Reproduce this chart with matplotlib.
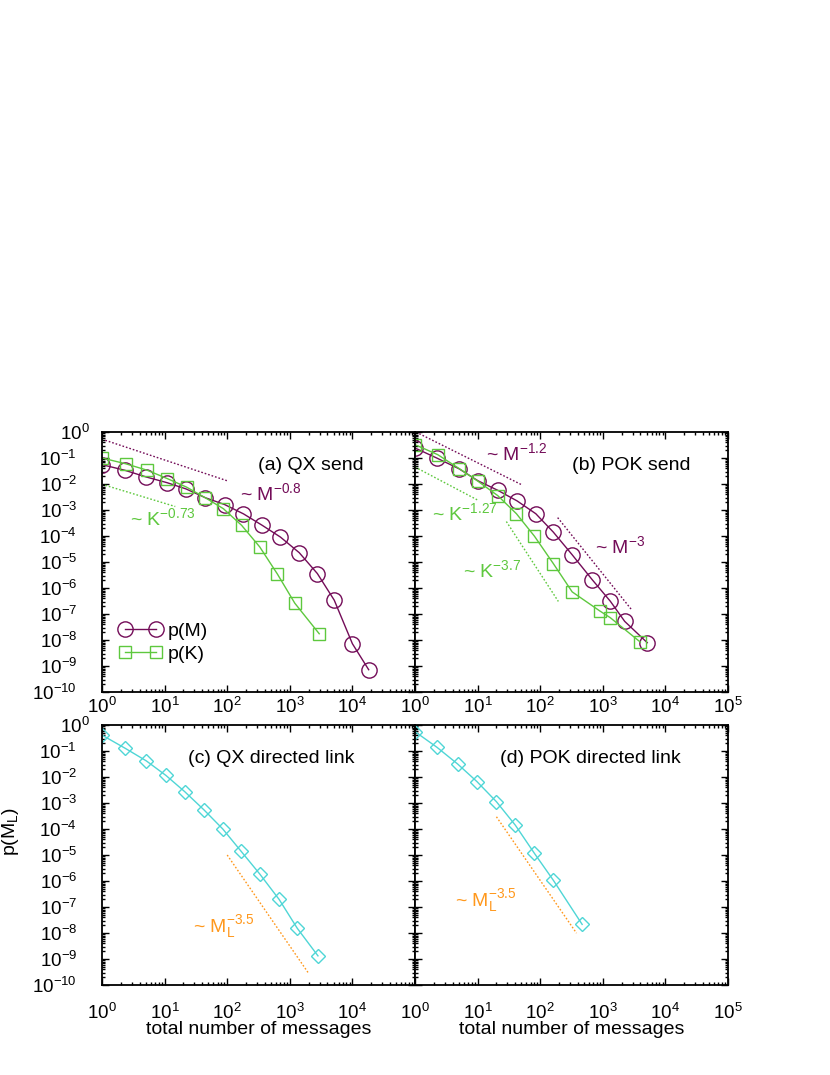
import numpy as np
import matplotlib
matplotlib.use("Agg")
import matplotlib.pyplot as plt
from matplotlib.ticker import LogLocator, NullFormatter

plt.rcParams["font.family"] = ["Liberation Sans", "DejaVu Sans"]
plt.rcParams["mathtext.fontset"] = "custom"
plt.rcParams["mathtext.rm"] = "Liberation Sans"
plt.rcParams["mathtext.it"] = "Liberation Sans:italic"
plt.rcParams["mathtext.default"] = "regular"

PURPLE = "#730c58"
GREEN = "#5ec83e"
CYAN = "#4fd6d6"
ORANGE = "#ff981c"

# (a) QX send
qx_m_x = [1, 2.3, 5.1, 11, 22, 45, 91, 182, 363, 708, 1413, 2754, 5129, 10000, 18200]
qx_m_y = [0.0555, 0.0339, 0.0186, 0.0112, 0.00646, 0.00295, 0.00162, 7.1e-4,
          2.57e-4, 9.1e-5, 2.29e-5, 3.6e-6, 3.4e-7, 7.2e-9, 7.2e-10]
qx_k_x = [1, 2.39, 5.25, 11, 22.4, 44.7, 87, 170, 331, 631, 1202, 2951]
qx_k_y = [0.1, 0.060, 0.034, 0.0162, 0.0076, 0.00295, 0.00112, 2.57e-4,
          3.8e-5, 3.5e-6, 2.6e-7, 1.74e-8]

# (b) POK send
pok_m_x = [1, 2.22, 5.0, 10.2, 20.9, 42.7, 85, 162, 324, 676, 1318, 2239, 5129]
pok_m_y = [0.243, 0.1, 0.039, 0.0132, 0.00575, 0.00224, 7.2e-4, 1.41e-4,
           1.9e-5, 2.1e-6, 3.1e-7, 5.2e-8, 7.9e-9]
pok_k_x = [1, 2.3, 5.1, 10.2, 20.9, 41.7, 81, 162, 324, 891, 1318, 3981]
pok_k_y = [0.326, 0.135, 0.039, 0.0126, 0.0036, 7.2e-4, 9.8e-5, 8.7e-6,
           7.1e-7, 1.32e-7, 7.2e-8, 8.3e-9]

# (c) QX directed link
qx_l_x = [1, 2.36, 5.1, 10.5, 20.9, 42.7, 85, 166, 331, 676, 1318, 2818]
qx_l_y = [0.41, 0.126, 0.0417, 0.0115, 0.00275, 5.4e-4, 1.0e-4, 1.41e-5,
          1.86e-6, 1.95e-7, 1.51e-8, 1.32e-9]

# (d) POK directed link
pok_l_x = [1, 2.25, 4.8, 9.8, 20, 40, 81, 162, 468]
pok_l_y = [0.555, 0.138, 0.0316, 0.0066, 0.00112, 1.41e-4, 1.15e-5, 1.07e-6, 2.14e-8]

# power-law guides: (x_start, x_end, y_start, exponent)
fit_qx_m = (1.13, 105, 0.48, -0.8)
fit_qx_k = (1.13, 14.8, 8.9e-3, -0.73)
fit_pok_m1 = (1.17, 50, 0.86, -1.2)
fit_pok_k1 = (1.0, 10, 0.045, -1.27)
fit_pok_k2 = (28.8, 195, 3.6e-4, -3.7)
fit_pok_m2 = (190, 2950, 5.1e-4, -3.0)
fit_qx_l = (100, 2000, 1e-5, -3.5)
fit_pok_l = (20, 380, 2.95e-4, -3.5)

y_decades = list(range(0, -11, -1))

fig = plt.figure(figsize=(8.3, 10.75), dpi=100)
W, H = 830, 1075
FS = 14


def make_ax(left, top):
    return fig.add_axes([left / W, 1 - (top + 260) / H, 313 / W, 260 / H])


ax_a = make_ax(102, 432)
ax_b = make_ax(415, 432)
ax_c = make_ax(102, 725)
ax_d = make_ax(415, 725)

for ax in [ax_a, ax_b, ax_c, ax_d]:
    ax.set_xscale("log")
    ax.set_yscale("log")
    ax.set_xlim(1, 1e5)
    ax.set_ylim(1e-10, 1)
    ax.xaxis.set_major_locator(LogLocator(base=10, numticks=20))
    ax.yaxis.set_major_locator(LogLocator(base=10, numticks=20))
    ax.xaxis.set_minor_locator(LogLocator(base=10, subs=np.arange(2, 10), numticks=100))
    ax.yaxis.set_minor_locator(LogLocator(base=10, subs=np.arange(2, 10), numticks=100))
    ax.xaxis.set_minor_formatter(NullFormatter())
    ax.yaxis.set_minor_formatter(NullFormatter())
    ax.tick_params(which="both", direction="in", top=True, right=True, width=1.0,
                   labelleft=False)
    ax.tick_params(which="major", length=5, labelsize=13.5, pad=3.5)
    ax.tick_params(which="minor", length=2.5)
    for s in ax.spines.values():
        s.set_linewidth(1.3)

for ax in [ax_c, ax_d]:
    ax.tick_params(axis="x", which="major", pad=13)

# y tick labels on the left panels (placed like the original, ragged right edge)
for ax in [ax_a, ax_c]:
    for k in y_decades:
        xr = -0.038 if k == 0 else -0.08
        ax.text(xr, 10.0**k, r"$10^{%d}$" % k, fontsize=13.5, ha="right",
                va="center_baseline", transform=ax.get_yaxis_transform())


def guide(ax, fit, color):
    x0, x1, y0, k = fit
    xs = np.array([x0, x1])
    ys = y0 * (xs / x0) ** k
    ax.plot(xs, ys, color=color, lw=1.0, ls=(0, (1.2, 1.4)))


def series(ax, x, y, marker, color, ms, label=None):
    ax.plot(x, y, marker=marker, color=color, mfc="none", mec=color, ms=ms,
            mew=1.0, lw=1.0, label=label)


# (a)
series(ax_a, qx_m_x, qx_m_y, "o", PURPLE, 11, "p(M)")
series(ax_a, qx_k_x, qx_k_y, "s", GREEN, 8.5, "p(K)")
guide(ax_a, fit_qx_m, PURPLE)
guide(ax_a, fit_qx_k, GREEN)
ax_a.text(10**2.49, 10**-1.27, "(a) QX send", fontsize=FS, va="center")
ax_a.text(10**2.20, 10**-2.35, r"~ M$^{-0.8}$", fontsize=FS, color=PURPLE, va="center")
ax_a.text(10**0.45, 10**-3.30, r"~ K$^{-0.73}$", fontsize=FS, color=GREEN, va="center")
ax_a.legend(loc="center left", bbox_to_anchor=(0.03, 0.19), frameon=False,
            numpoints=2, handlelength=2.2, handletextpad=0.3, fontsize=FS,
            labelspacing=0.25, borderaxespad=0)

# (b)
series(ax_b, pok_m_x, pok_m_y, "o", PURPLE, 11)
series(ax_b, pok_k_x, pok_k_y, "s", GREEN, 8.5)
guide(ax_b, fit_pok_m1, PURPLE)
guide(ax_b, fit_pok_k1, GREEN)
guide(ax_b, fit_pok_k2, GREEN)
guide(ax_b, fit_pok_m2, PURPLE)
ax_b.text(10**2.51, 10**-1.27, "(b) POK send", fontsize=FS, va="center")
ax_b.text(10**1.13, 10**-0.83, r"~ M$^{-1.2}$", fontsize=FS, color=PURPLE, va="center")
ax_b.text(10**0.27, 10**-3.12, r"~ K$^{-1.27}$", fontsize=FS, color=GREEN, va="center")
ax_b.text(10**0.77, 10**-5.32, r"~ K$^{-3.7}$", fontsize=FS, color=GREEN, va="center")
ax_b.text(10**2.87, 10**-4.40, r"~ M$^{-3}$", fontsize=FS, color=PURPLE, va="center")

# (c)
series(ax_c, qx_l_x, qx_l_y, "D", CYAN, 7)
guide(ax_c, fit_qx_l, ORANGE)
ax_c.text(10**1.37, 10**-1.27, "(c) QX directed link", fontsize=FS, va="center")
ax_c.text(10**1.45, 10**-7.75, r"~ M$_{L}^{-3.5}$", fontsize=FS, color=ORANGE, va="center")

# (d)
series(ax_d, pok_l_x, pok_l_y, "D", CYAN, 7)
guide(ax_d, fit_pok_l, ORANGE)
ax_d.text(10**1.36, 10**-1.27, "(d) POK directed link", fontsize=FS, va="center")
ax_d.text(10**0.64, 10**-6.75, r"~ M$_{L}^{-3.5}$", fontsize=FS, color=ORANGE, va="center")

# hide the 10^5 label on the left panels (shared border with right panels)
fig.canvas.draw()
for ax in [ax_a, ax_c]:
    for lab in ax.get_xticklabels():
        if lab.get_position()[0] >= 1e5 * 0.99:
            lab.set_visible(False)

ax_c.set_ylabel(r"p(M$_{L}$)", fontsize=FS)
ax_c.yaxis.set_label_coords(-0.259, 0.59)
for ax in [ax_c, ax_d]:
    ax.set_xlabel("total number of messages", fontsize=FS, va="center")
    ax.xaxis.set_label_coords(0.5, -0.172)

fig.savefig("out.png", dpi=100)
